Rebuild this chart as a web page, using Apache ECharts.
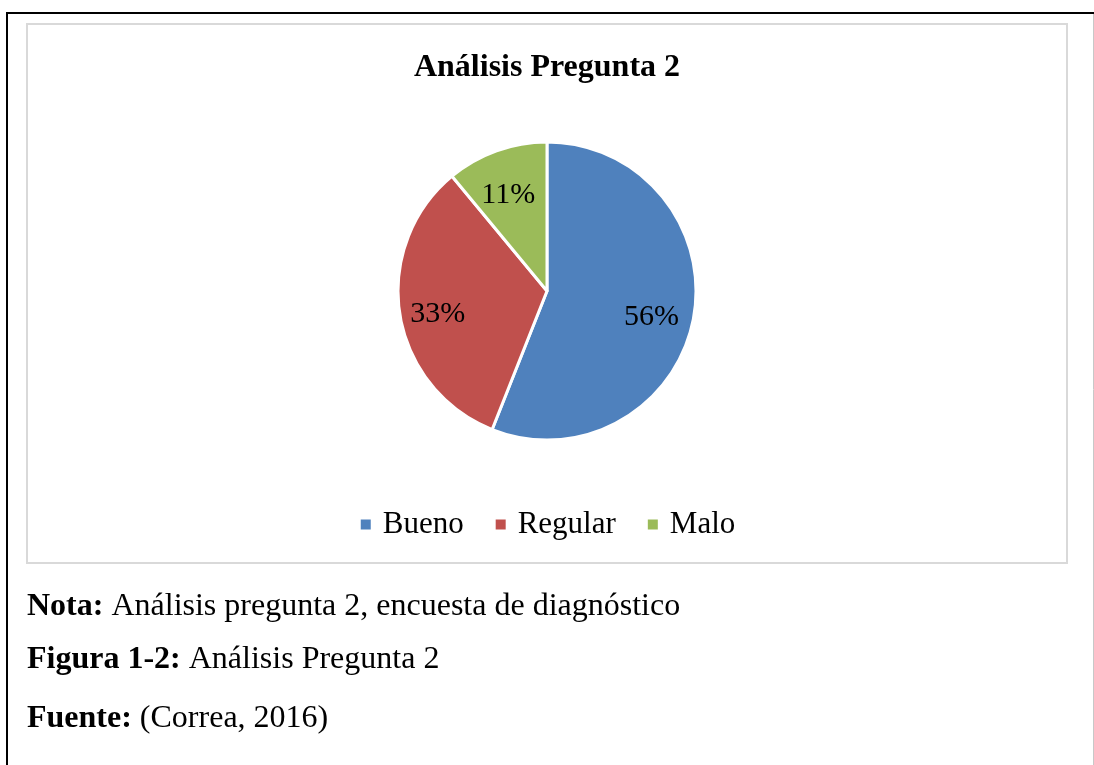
<!DOCTYPE html>
<html>
<head>
<meta charset="utf-8">
<script src="https://cdn.jsdelivr.net/npm/echarts@6/dist/echarts.min.js"></script>
<style>
html,body{margin:0;padding:0;background:#fff;}
#chart{width:1094px;height:765px;}
</style>
</head>
<body>
<div id="chart"></div>
<script>
const titleText = 'Análisis Pregunta 2';
const categories = ['Bueno', 'Regular', 'Malo'];
const values = [56, 33, 11];
const colors = ['#4F81BD', '#C0504D', '#9BBB59'];
const notes = [
  ['Nota:', ' Análisis pregunta 2, encuesta de diagnóstico'],
  ['Figura 1-2:', ' Análisis Pregunta 2'],
  ['Fuente:', ' (Correa, 2016)']
];

const FONT = '"Liberation Serif", "Times New Roman", serif';
const chart = echarts.init(document.getElementById('chart'), null, {renderer: 'canvas'});

const pieData = categories.map((c, i) => ({name: c, value: values[i], itemStyle: {color: colors[i]}}));
const labelData = categories.map((c, i) => ({name: c, value: values[i]}));

const noteY = [607, 660, 719];
const graphics = [
  {type: 'line', shape: {x1: 6, y1: 13, x2: 1094, y2: 13}, style: {stroke: '#000', lineWidth: 2}, z: 10},
  {type: 'line', shape: {x1: 7, y1: 12, x2: 7, y2: 765}, style: {stroke: '#000', lineWidth: 2}, z: 10},
  {type: 'line', shape: {x1: 1093.5, y1: 14, x2: 1093.5, y2: 765}, style: {stroke: '#c8c8c8', lineWidth: 1}, z: 10},
  {type: 'rect', shape: {x: 27, y: 24, width: 1040, height: 539}, style: {fill: 'none', stroke: '#d9d9d9', lineWidth: 2}, z: 10}
];
notes.forEach((n, i) => {
  graphics.push({
    type: 'text', x: 27, y: noteY[i],
    style: {
      text: '{b|' + n[0] + '}{r|' + n[1] + '}',
      verticalAlign: 'middle',
      rich: {
        b: {fontFamily: FONT, fontSize: 32, fontWeight: 'bold', fill: '#000'},
        r: {fontFamily: FONT, fontSize: 32, fill: '#000'}
      }
    }
  });
});

chart.setOption({
  backgroundColor: '#fff',
  animation: false,
  title: {
    text: titleText, left: 'center', top: 47,
    textStyle: {fontFamily: FONT, fontSize: 32, fontWeight: 'bold', color: '#000'}
  },
  legend: {
    data: categories, left: 'center', top: 504,
    icon: 'rect', itemWidth: 12, itemHeight: 12, itemGap: 30,
    textStyle: {fontFamily: FONT, fontSize: 31, color: '#000', padding: [0, 0, 0, 6]}
  },
  graphic: graphics,
  series: [
    {
      type: 'pie', center: [547, 291], radius: [0, 149],
      startAngle: 90, clockwise: true,
      data: pieData,
      itemStyle: {borderColor: '#fff', borderWidth: 3},
      label: {show: false}, labelLine: {show: false},
      emphasis: {disabled: true}
    },
    {
      type: 'pie', center: [547, 291], radius: [62, 149],
      startAngle: 90, clockwise: true,
      data: labelData,
      itemStyle: {color: 'rgba(0,0,0,0)'},
      label: {
        show: true, position: 'inside',
        formatter: p => p.value + '%',
        fontFamily: FONT, fontSize: 30, color: '#000', offset: [-2, 6]
      },
      labelLine: {show: false},
      emphasis: {disabled: true},
      silent: true, legendHoverLink: false
    }
  ]
});
</script>
</body>
</html>
